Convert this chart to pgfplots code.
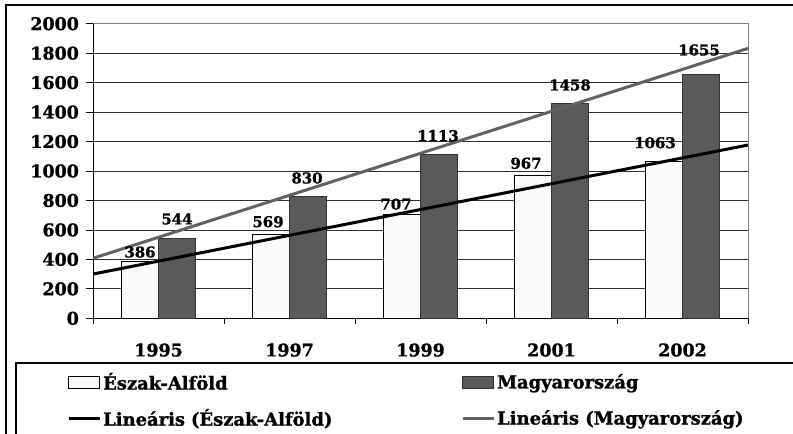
\documentclass[border=0pt]{standalone}
\usepackage{pgfplots}
\pgfplotsset{compat=1.18}
\usepackage{fontspec}
\setmainfont{DejaVu Serif}[BoldFeatures={FakeBold=1.2}]
\definecolor{darkbar}{HTML}{5A5A5A}
\definecolor{lightbar}{HTML}{FAFAFA}
\definecolor{trendgray}{HTML}{626262}
\definecolor{gridc}{HTML}{303030}
\begin{document}
\begin{tikzpicture}
\path[use as bounding box] (-93bp,-115.7bp) rectangle (700bp,318.3bp);
\begin{axis}[
  at={(0,0)}, anchor=south west,
  scale only axis, width=655bp, height=294.6bp,
  xmin=0.5, xmax=5.5, ymin=0, ymax=2000,
  clip=false,
  xtick={1,2,3,4,5}, xticklabels={1995,1997,1999,2001,2002},
  minor xtick={0.5,1.5,...,5.5},
  ytick={0,200,...,2000},
  axis x line*=bottom, axis y line*=left,
  axis line style={black, line width=0.9bp},
  tick align=outside,
  major tick length=6.6bp, minor tick length=5.7bp,
  major x tick style={draw=none},
  minor tick style={black, line width=0.8bp},
  ytick style={black, line width=0.8bp},
  ymajorgrids, major grid style={gridc, line width=0.7bp},
  /pgf/number format/assume math mode=true,
  /pgf/number format/1000 sep={},
  tick label style={font=\bfseries\fontsize{17.5}{17.5}\selectfont},
  xticklabel style={anchor=north, yshift=-15bp},
  yticklabel style={anchor=east, xshift=-4bp},
  legend columns=2,
  legend cell align=left,
  legend style={draw=none, fill=none, at={(-0.0397,-0.178)}, anchor=north west,
    font=\bfseries\fontsize{18}{18}\selectfont, row sep=14bp,
    /tikz/column 2/.style={text width=356bp},
    inner sep=0pt},
  nodes near coords,
  nodes near coords style={font=\bfseries\fontsize{15}{15}\selectfont, anchor=center},
  visualization depends on={value \thisrow{dx} \as \dx},
  visualization depends on={value \thisrow{dy} \as \dy},
  every node near coord/.append style={xshift=\dx bp, yshift=\dy bp},
]
\addplot[ybar, bar width=37bp, bar shift=-18.5bp, fill=lightbar, draw=black, line width=0.8bp,
  legend image code/.code={\draw[fill=lightbar, draw=black, line width=0.8bp] (0bp,-6bp) rectangle (31bp,6bp);}]
  table[x=x, y=y] {
x y dx dy
1 386 -18.5 9.4
2 569 -21.5 12.8
3 707 -24.5 10
4 967 -25.5 12.6
5 1063 -27.5 19
};
\addlegendentry{Észak-Alföld}
\addplot[ybar, bar width=37bp, bar shift=18.5bp, fill=darkbar, draw=black!80, line width=0.8bp,
  legend image code/.code={\draw[fill=darkbar, draw=black!80, line width=0.8bp] (0bp,-6bp) rectangle (31bp,6bp);}]
  table[x=x, y=y] {
x y dx dy
1 544 18.5 19.2
2 830 17.5 18
3 1113 17.5 18.7
4 1458 18.5 18.5
5 1655 16.5 24.5
};
\addlegendentry{Magyarország}
\addplot[black, line width=3bp, nodes near coords={}, sharp plot,
  legend image code/.code={\draw[black, line width=3bp] (0bp,0bp) -- (31bp,0bp);}]
  table[x=x, y=y] {
x y dx dy
0.5 300.4 0 0
5.5 1176.4 0 0
};
\addlegendentry{Lineáris (Észak-Alföld)}
\addplot[trendgray, line width=3bp, nodes near coords={}, sharp plot,
  legend image code/.code={\draw[trendgray, line width=3bp] (0bp,0bp) -- (31bp,0bp);}]
  table[x=x, y=y] {
x y dx dy
0.5 407.5 0 0
5.5 1832.5 0 0
};
\addlegendentry{Lineáris (Magyarország)}
\draw[gray, line width=0.9bp] (axis cs:5.5,0) -- (axis cs:5.5,2000) -- (axis cs:0.5,2000);
\end{axis}
\draw[black, line width=1.3bp] (-87bp,-120bp) -- (-87bp,313.3bp) -- (710bp,313.3bp);
\draw[black, line width=1.3bp] (-77bp,-120bp) -- (-77bp,-44.7bp) -- (710bp,-44.7bp);
\end{tikzpicture}
\end{document}
